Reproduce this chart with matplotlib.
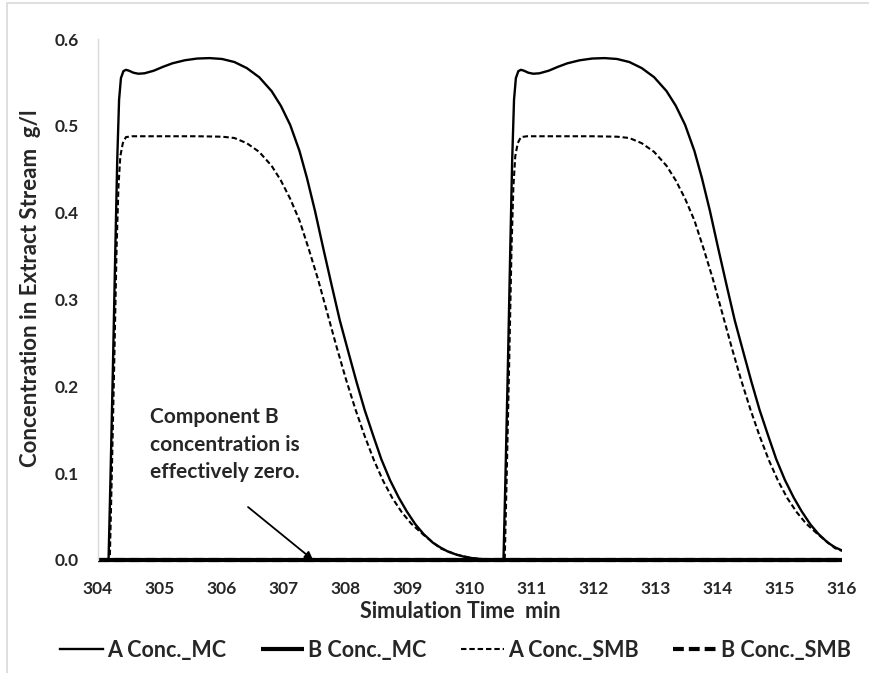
import matplotlib
matplotlib.use("Agg")
import matplotlib.pyplot as plt
from matplotlib.patches import Rectangle

plt.rcParams['font.family'] = ['Lato', 'DejaVu Sans']
plt.rcParams['font.weight'] = 'bold'

# A concentration, MC model (both cycles)
t_a_mc = [304.00, 304.17, 304.20, 304.24, 304.28, 304.31, 304.34, 304.37, 304.41, 304.45,
          304.50, 304.57, 304.65, 304.75, 304.90, 305.05, 305.20, 305.40, 305.60, 305.80,
          306.00, 306.20, 306.40, 306.60, 306.80, 306.95, 307.10, 307.25, 307.37, 307.50,
          307.63, 307.77, 307.90, 308.04, 308.17, 308.30, 308.44, 308.57, 308.71, 308.85,
          308.98, 309.12, 309.25, 309.40, 309.52, 309.65, 309.79, 309.92, 310.05, 310.25,
          310.54,
          310.57, 310.61, 310.65, 310.68, 310.71, 310.74, 310.78, 310.82,
          310.87, 310.94, 311.02, 311.12, 311.27, 311.42, 311.57, 311.77, 311.97, 312.17,
          312.37, 312.57, 312.77, 312.97, 313.17, 313.32, 313.47, 313.62, 313.74, 313.87,
          314.00, 314.14, 314.27, 314.41, 314.54, 314.67, 314.81, 314.94, 315.08, 315.22,
          315.35, 315.49, 315.62, 315.77, 315.89, 316.00]
a_mc = [0, 0, 0.09, 0.22, 0.36, 0.46, 0.53, 0.555, 0.563, 0.5645,
        0.5635, 0.5612, 0.5600, 0.5605, 0.5635, 0.5680, 0.5720, 0.5755, 0.5775, 0.5780,
        0.5770, 0.5735, 0.5665, 0.5560, 0.5400, 0.5230, 0.5010, 0.4710, 0.4400, 0.4020,
        0.3600, 0.3160, 0.2760, 0.2390, 0.2050, 0.1730, 0.1430, 0.1160, 0.0920, 0.0720,
        0.0560, 0.0410, 0.0300, 0.0200, 0.0145, 0.0095, 0.0060, 0.0035, 0.0020, 0.0005,
        0,
        0.09, 0.22, 0.36, 0.46, 0.53, 0.555, 0.563, 0.5645,
        0.5635, 0.5612, 0.5600, 0.5605, 0.5635, 0.5680, 0.5720, 0.5755, 0.5775, 0.5780,
        0.5770, 0.5735, 0.5665, 0.5560, 0.5400, 0.5230, 0.5010, 0.4710, 0.4400, 0.4020,
        0.3600, 0.3160, 0.2760, 0.2390, 0.2050, 0.1730, 0.1430, 0.1160, 0.0920, 0.0720,
        0.0560, 0.0410, 0.0300, 0.0200, 0.0145, 0.0110]

# A concentration, SMB model
t_a_smb = [304.00, 304.19, 304.22, 304.26, 304.30, 304.33, 304.36, 304.40, 304.45, 304.55,
           304.80, 305.20, 305.60, 306.00, 306.20, 306.40, 306.60, 306.80, 306.95, 307.10,
           307.25, 307.40, 307.55, 307.70, 307.85, 308.00, 308.15, 308.30, 308.45, 308.60,
           308.75, 308.90, 309.05, 309.25, 309.52, 309.79, 310.05, 310.30, 310.56,
           310.59, 310.63, 310.67, 310.70, 310.73, 310.77, 310.82, 310.92,
           311.17, 311.57, 311.97, 312.37, 312.57, 312.77, 312.97, 313.17, 313.32, 313.47,
           313.62, 313.77, 313.92, 314.07, 314.22, 314.37, 314.52, 314.67, 314.82, 314.97,
           315.12, 315.27, 315.42, 315.62, 315.89, 316.00]
a_smb = [0, 0, 0.09, 0.22, 0.36, 0.43, 0.465, 0.480, 0.487, 0.488,
         0.488, 0.488, 0.488, 0.4875, 0.486, 0.480, 0.470, 0.454, 0.437, 0.416,
         0.391, 0.358, 0.323, 0.284, 0.245, 0.208, 0.174, 0.143, 0.115, 0.091,
         0.071, 0.055, 0.042, 0.029, 0.0135, 0.006, 0.002, 0.0005, 0,
         0.09, 0.22, 0.36, 0.43, 0.465, 0.480, 0.487, 0.488,
         0.488, 0.488, 0.488, 0.4875, 0.486, 0.480, 0.470, 0.454, 0.437, 0.416,
         0.391, 0.358, 0.323, 0.284, 0.245, 0.208, 0.174, 0.143, 0.115, 0.091,
         0.071, 0.055, 0.042, 0.029, 0.0135, 0.0105]

# B concentration is zero in both models
t_b = [304.0, 316.0]
b_mc = [0, 0]
b_smb = [0, 0]

x_ticks = list(range(304, 317))
y_ticks = [0.0, 0.1, 0.2, 0.3, 0.4, 0.5, 0.6]

fig = plt.figure(figsize=(8.70, 6.73), dpi=100)
ax = fig.add_axes([98 / 870, 1 - 560 / 673, 744 / 870, 521 / 673])

ax.plot(t_a_mc, a_mc, color='black', lw=1.7, label='A Conc._MC')
ax.plot(t_b, b_mc, color='black', lw=3.0, label='B Conc._MC',
        solid_capstyle='butt', clip_on=False)
ax.plot(t_a_smb, a_smb, color='black', lw=1.5, ls=(0, (2.6, 1.4)), label='A Conc._SMB')
ax.plot(t_b, b_smb, color='black', lw=3.0, ls=(0, (2.6, 1.2)), label='B Conc._SMB',
        clip_on=False)

ax.set_xlim(304, 316)
ax.set_ylim(0, 0.6)
ax.set_xticks(x_ticks)
ax.set_yticks(y_ticks)
ax.set_yticklabels([f'{v:.1f}' for v in y_ticks])
ax.tick_params(length=0, labelsize=12.5, colors='#262626')
ax.tick_params(axis='y', pad=14)
ax.tick_params(axis='x', pad=15)
for side in ['top', 'right', 'bottom']:
    ax.spines[side].set_visible(False)
ax.spines['left'].set_color('#d9d9d9')
ax.spines['left'].set_linewidth(1.0)

ax.set_xlabel('Simulation Time  min', fontsize=15.5, fontweight='bold', color='#262626')
ax.xaxis.set_label_coords((460 - 98) / 744, -(612 - 560) / 521)
ax.xaxis.label.set_va('center')
ax.set_ylabel('Concentration in Extract Stream  g/l', fontsize=16, fontweight='bold',
              color='#262626')
ax.yaxis.set_label_coords(-(98 - 31) / 744, (560 - 288) / 521)
ax.yaxis.label.set_va('center')

ax.text(304.84, 0.133, 'Component B\nconcentration is\neffectively zero.',
        fontsize=15, fontweight='bold', color='#262626', ha='left', va='center',
        linespacing=1.48)
ax.annotate('', xy=(307.47, 0.0), xytext=(306.42, 0.061),
            arrowprops=dict(arrowstyle='-|>', color='black', lw=1.3,
                            mutation_scale=12, shrinkA=0, shrinkB=0))

leg = fig.legend(loc='center', bbox_to_anchor=(455 / 870, 1 - 650 / 673), ncol=4,
                 frameon=False, prop={'weight': 'bold', 'size': 15.5},
                 handlelength=2.0, handletextpad=0.2, columnspacing=1.6,
                 labelcolor='#262626')

fig.patches.append(Rectangle((7 / 870, -0.1), 1.0, 1 - 3 / 673 + 0.1,
                             transform=fig.transFigure, fill=False,
                             edgecolor='#d9d9d9', lw=1.2))

fig.savefig('out.png', dpi=100)
